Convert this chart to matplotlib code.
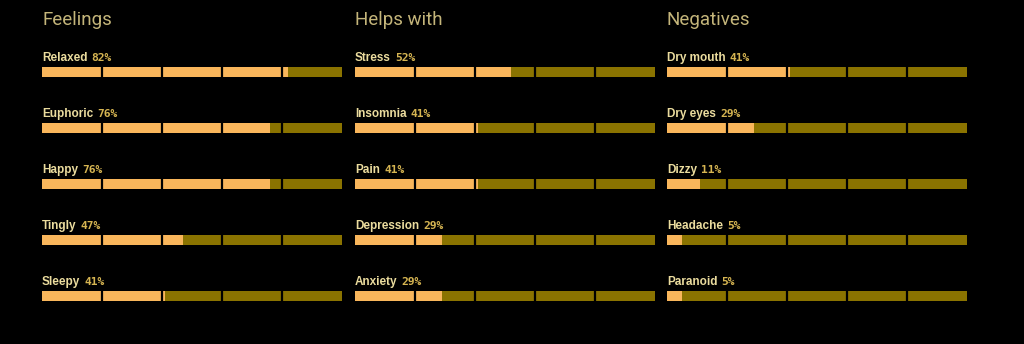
import matplotlib.pyplot as plt
import numpy as np

# --- Data ---
groups = ["Feelings", "Helps with", "Negatives"]

feelings_labels = ["Relaxed", "Euphoric", "Happy", "Tingly", "Sleepy"]
feelings_values = [82, 76, 76, 47, 41]

helps_labels = ["Stress", "Insomnia", "Pain", "Depression", "Anxiety"]
helps_values = [52, 41, 41, 29, 29]

negatives_labels = ["Dry mouth", "Dry eyes", "Dizzy", "Headache", "Paranoid"]
negatives_values = [41, 29, 11, 5, 5]

# --- Style ---
BG = "black"
FILL = "#f9b65b"
TRACK = "#8a7300"
TITLE_COL = "#c4b57a"
LABEL_COL = "#ebdc9e"
PCT_COL = "#d6b552"

W, H = 1024, 344
fig = plt.figure(figsize=(W / 100, H / 100), dpi=100, facecolor=BG)

# axes geometry in pixels: rows 56px apart, first row centred at y=72
row_px = 56
y_top, y_bot = -0.6, 4.5
top_px = 72 + y_top * row_px
bot_px = 72 + y_bot * row_px
lefts = [42, 355, 667]
width_px = 300

columns = [
    (feelings_labels, feelings_values),
    (helps_labels, helps_values),
    (negatives_labels, negatives_values),
]

for left, title, (labels, values) in zip(lefts, groups, columns):
    ax = fig.add_axes([left / W, 1 - bot_px / H, width_px / W, (bot_px - top_px) / H])
    ax.set_facecolor(BG)
    ax.set_xlim(0, 100)
    ax.set_ylim(y_bot, y_top)
    ax.axis("off")

    rows = np.arange(len(labels))
    bar_h = 10 / row_px
    ax.barh(rows, [100] * len(rows), height=bar_h, color=TRACK, linewidth=0)
    ax.barh(rows, values, height=bar_h, color=FILL, linewidth=0)

    # segment separators every 20%
    for i in rows:
        for s in [20, 40, 60, 80]:
            ax.plot([s, s], [i - bar_h / 2, i + bar_h / 2], color=BG, lw=1.6,
                    solid_capstyle="butt")

    for i, (lab, v) in enumerate(zip(labels, values)):
        base = i - 0.2
        t = ax.text(0, base, lab, color=LABEL_COL, fontsize=8.5,
                    fontweight="bold", family="Liberation Sans", va="baseline", ha="left")
        # percentage sits right after the label, same baseline
        ax.annotate(f"{v}%", xy=(1, base), xycoords=(t, "data"), xytext=(3, 0),
                    textcoords="offset points", color=PCT_COL, fontsize=8.1,
                    fontweight="bold", family="DejaVu Sans Mono", va="baseline", ha="left")

    ax.text(0, -0.84, title, color=TITLE_COL, fontsize=13.5, family="Roboto",
            fontweight="normal", va="baseline", ha="left")

fig.savefig("out.png", dpi=100, facecolor=BG)
